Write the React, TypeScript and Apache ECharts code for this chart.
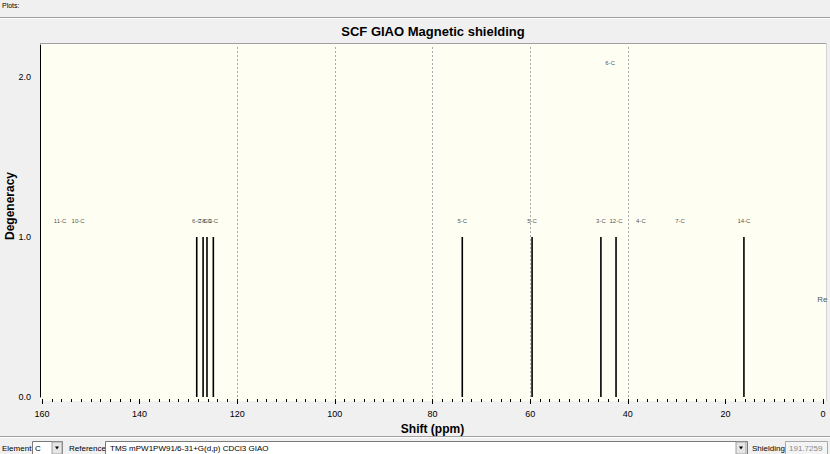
import React, { useEffect, useRef } from "react";
import * as echarts from "echarts";

// ---- data ----
const X_MIN = 0;
const X_MAX = 160;
const X_STEP = 20;
const Y_MIN = 0;
const Y_MAX = 2.2;
const Y_STEP = 1;

const PEAK_SHIFTS = [128.3, 127.0, 126.2, 124.9, 73.9, 59.6, 45.5, 42.4, 16.2];
const PEAK_DEGENERACY = [1, 1, 1, 1, 1, 1, 1, 1, 1];

const LABEL_TEXTS = ["11-C", "10-C", "6-C", "7-C", "8-C", "9-C", "5-C", "5-C", "3-C", "12-C", "4-C", "7-C", "14-C", "6-C", "Re"];
const LABEL_SHIFTS = [156.3, 152.6, 128.3, 127.0, 126.2, 124.9, 73.9, 59.6, 45.5, 42.4, 37.3, 29.3, 16.2, 43.6, 1.2];
const LABEL_HEIGHTS = [1.1, 1.1, 1.1, 1.1, 1.1, 1.1, 1.1, 1.1, 1.1, 1.1, 1.1, 1.1, 1.1, 2.09, 0.61];

const GRID_SHIFTS = [120, 100, 80, 60, 40];

const TITLE = "SCF GIAO Magnetic shielding";
const X_NAME = "Shift (ppm)";
const Y_NAME = "Degeneracy";
const ELEMENT = "C";
const REFERENCE = "TMS mPW1PW91/6-31+G(d,p) CDCl3 GIAO";
const SHIELDING = "191.7259";

const FONT = "Arial, 'Liberation Sans', sans-serif";

export default function App() {
  const ref = useRef<HTMLDivElement>(null);

  useEffect(() => {
    document.body.style.margin = "0";
    if (!ref.current) return;
    const chart = echarts.init(ref.current, undefined, { renderer: "svg" });

    const peaks = PEAK_SHIFTS.map((s, i) => [s, PEAK_DEGENERACY[i]]);
    const labels = LABEL_TEXTS.map((t, i) => ({
      value: [LABEL_SHIFTS[i], LABEL_HEIGHTS[i], t],
      label: t === "Re" ? { align: "left", fontSize: 8 } : {},
    }));

    const uiText = (x: number, y: number, text: string, extra: any = {}) => ({
      type: "text",
      x,
      y,
      style: {
        text,
        fontSize: 8,
        fontFamily: FONT,
        fill: "#000",
        verticalAlign: "middle",
        ...extra,
      },
    });

    const dropBtn = (x: number) => [
      {
        type: "rect",
        shape: { x: x, y: 442, width: 10, height: 12 },
        style: { fill: "#e6e6e6", stroke: "#a0a0a0", lineWidth: 1 },
      },
      {
        type: "polygon",
        shape: { points: [[x + 3, 446.5], [x + 7, 446.5], [x + 5, 449.5]] },
        style: { fill: "#000" },
      },
    ];

    chart.setOption({
      animation: false,
      backgroundColor: "#f0f0f0",
      grid: {
        left: 42,
        right: 7,
        top: 45,
        bottom: 57,
        containLabel: false,
        outerBoundsMode: "none",
      },
      xAxis: {
        type: "value",
        min: X_MIN,
        max: X_MAX,
        interval: X_STEP,
        inverse: true,
        offset: 2,
        name: X_NAME,
        nameLocation: "middle",
        nameGap: 23,
        nameTextStyle: { fontSize: 12, fontWeight: "bold", color: "#000", fontFamily: FONT },
        axisLine: { show: false, onZero: false },
        axisTick: { show: true, length: 5, lineStyle: { color: "#000" } },
        minorTick: { show: true, splitNumber: 10, length: 3, lineStyle: { color: "#000" } },
        splitLine: { show: false },
        axisLabel: { fontSize: 9, color: "#000", margin: 10, fontFamily: FONT },
      },
      yAxis: {
        type: "value",
        position: "left",
        min: Y_MIN,
        max: Y_MAX,
        interval: Y_STEP,
        offset: 2,
        axisLine: { show: true, onZero: false, lineStyle: { color: "#000", width: 1 } },
        axisTick: { show: false },
        splitLine: { show: false },
        axisLabel: {
          fontSize: 9,
          color: "#000",
          margin: 9,
          fontFamily: FONT,
          showMaxLabel: false,
          formatter: (v: number) => v.toFixed(1),
        },
      },
      series: [
        {
          type: "custom",
          data: peaks,
          encode: { x: 0, y: 1 },
          renderItem: (params: any, api: any) => {
            const top = api.coord([api.value(0), api.value(1)]);
            const base = api.coord([api.value(0), 0]);
            return {
              type: "line",
              shape: { x1: top[0], y1: top[1], x2: base[0], y2: base[1] },
              style: { stroke: "#000", lineWidth: 1.6 },
            };
          },
          markLine: {
            silent: true,
            symbol: "none",
            label: { show: false },
            lineStyle: { type: [2, 2], color: "#a8a8a8", width: 1 },
            data: GRID_SHIFTS.map((g) => ({ xAxis: g })),
          },
          z: 3,
        },
        {
          type: "scatter",
          data: labels,
          symbolSize: 1,
          itemStyle: { color: "rgba(0,0,0,0)" },
          label: {
            show: true,
            position: "inside",
            formatter: (p: any) => p.value[2],
            fontSize: 6,
            color: "#222",
            fontFamily: FONT,
          },
          z: 4,
        },
      ],
      graphic: [
        uiText(2, 5, "Plots:", { fontSize: 7 }),
        { type: "line", shape: { x1: 0, y1: 17.5, x2: 830, y2: 17.5 }, style: { stroke: "#a0a0a0", lineWidth: 1 } },
        { type: "line", shape: { x1: 0, y1: 18.5, x2: 830, y2: 18.5 }, style: { stroke: "#ffffff", lineWidth: 1 } },
        {
          type: "rect",
          z: -10,
          shape: { x: 40, y: 43, width: 786, height: 358 },
          style: { fill: "#fefef2" },
        },
        { type: "line", shape: { x1: 40, y1: 43.5, x2: 826, y2: 43.5 }, style: { stroke: "#a0a0a0", lineWidth: 1 } },
        { type: "line", shape: { x1: 826.5, y1: 43, x2: 826.5, y2: 401 }, style: { stroke: "#d4d4d4", lineWidth: 1 } },
        {
          type: "text",
          x: 433,
          y: 31,
          style: {
            text: TITLE,
            fontSize: 13,
            fontWeight: "bold",
            fontFamily: FONT,
            fill: "#000",
            align: "center",
            verticalAlign: "middle",
          },
        },
        {
          type: "text",
          x: 10,
          y: 206,
          rotation: Math.PI / 2,
          style: {
            text: Y_NAME,
            fontSize: 12,
            fontWeight: "bold",
            fontFamily: FONT,
            fill: "#000",
            align: "center",
            verticalAlign: "middle",
          },
        },
        { type: "line", shape: { x1: 0, y1: 436.5, x2: 830, y2: 436.5 }, style: { stroke: "#a0a0a0", lineWidth: 1 } },
        { type: "line", shape: { x1: 0, y1: 437.5, x2: 830, y2: 437.5 }, style: { stroke: "#ffffff", lineWidth: 1 } },
        uiText(2, 448, "Element:"),
        { type: "rect", shape: { x: 32.5, y: 441.5, width: 30, height: 13 }, style: { fill: "#fff", stroke: "#7a7a7a", lineWidth: 1 } },
        uiText(35, 448, ELEMENT),
        ...dropBtn(52),
        uiText(69, 448, "Reference:"),
        { type: "rect", shape: { x: 105.5, y: 441.5, width: 642, height: 13 }, style: { fill: "#fff", stroke: "#7a7a7a", lineWidth: 1 } },
        uiText(110, 448, REFERENCE),
        ...dropBtn(736),
        uiText(752, 448, "Shielding:"),
        { type: "rect", shape: { x: 785.5, y: 441.5, width: 42, height: 13 }, style: { fill: "#f4f4f4", stroke: "#aaaaaa", lineWidth: 1 } },
        uiText(789, 448, SHIELDING, { fill: "#8a8a8a" }),
      ],
    });

    return () => chart.dispose();
  }, []);

  return <div ref={ref} style={{ width: 830, height: 454 }} />;
}
